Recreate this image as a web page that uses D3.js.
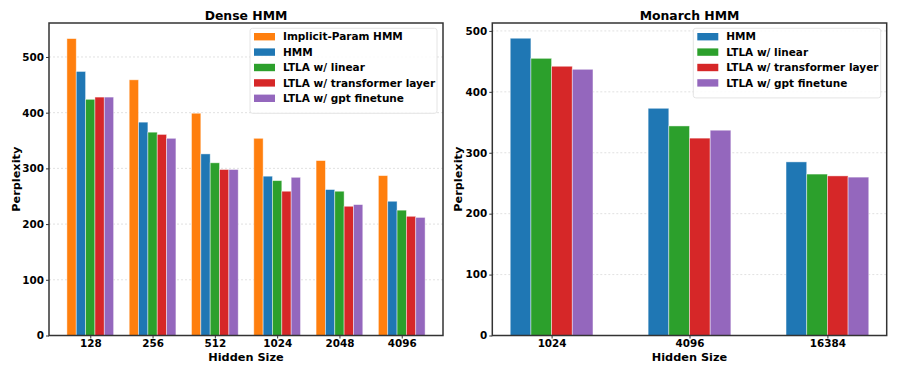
<!DOCTYPE html>
<html>
<head>
<meta charset="utf-8">
<script src="https://cdn.jsdelivr.net/npm/d3@7"></script>
<style>
  body { margin: 0; background: #fff; }
  svg { display: block; font-family: "DejaVu Sans", sans-serif; font-weight: bold; }
  .grid line { stroke: #d9d9d9; stroke-dasharray: 2,2; stroke-width: 0.8; }
  .axis text { font-family: "DejaVu Sans", sans-serif; font-size: 10.4px; font-weight: bold; fill: #000; }
  .axis line { stroke: #333; }
</style>
</head>
<body>
<div id="chart"></div>
<script>
// Dense HMM data
var denseSizes = ['128', '256', '512', '1024', '2048', '4096'];
var denseSeries = ['Implicit-Param HMM', 'HMM', 'LTLA w/ linear', 'LTLA w/ transformer layer', 'LTLA w/ gpt finetune'];
var denseImplicit = [533, 459, 399, 354, 314, 287];
var denseHmm = [474, 383, 326, 286, 262, 241];
var denseLinear = [424, 365, 310, 278, 259, 225];
var denseTransformer = [428, 361, 298, 259, 232, 214];
var denseGpt = [428, 354, 298, 284, 235, 212];
var denseTicks = [0, 100, 200, 300, 400, 500];

// Monarch HMM data
var monarchSizes = ['1024', '4096', '16384'];
var monarchSeries = ['HMM', 'LTLA w/ linear', 'LTLA w/ transformer layer', 'LTLA w/ gpt finetune'];
var monarchHmm = [488, 373, 285];
var monarchLinear = [455, 344, 265];
var monarchTransformer = [442, 324, 262];
var monarchGpt = [437, 337, 260];
var monarchTicks = [0, 100, 200, 300, 400, 500];

var colors = {
  'Implicit-Param HMM': '#ff7f0e',
  'HMM': '#1f77b4',
  'LTLA w/ linear': '#2ca02c',
  'LTLA w/ transformer layer': '#d62728',
  'LTLA w/ gpt finetune': '#9467bd'
};

var width = 897, height = 374;
var svg = d3.select('#chart').append('svg')
  .attr('width', width)
  .attr('height', height);

function drawPanel(opt) {
  var g = svg.append('g');
  var left = opt.left, right = opt.right, top = 23, bottom = 335.5;
  var n = opt.sizes.length, k = opt.series.length, bw = 0.15;
  var pad = ((n - 1) + k * bw) * 0.05 + k * bw / 2;

  var x = d3.scaleLinear().domain([-pad, n - 1 + pad]).range([left, right]);
  var y = d3.scaleLinear().domain([0, opt.ymax]).range([bottom, top]);

  // grid
  g.append('g').attr('class', 'grid')
    .selectAll('line').data(opt.ticks).enter().append('line')
    .attr('x1', left).attr('x2', right)
    .attr('y1', d => y(d)).attr('y2', d => y(d));

  // bars
  opt.series.forEach(function (name, j) {
    var vals = opt.values[j];
    g.append('g').selectAll('rect').data(vals).enter().append('rect')
      .attr('x', (d, i) => x(i + (j - (k - 1) / 2) * bw - bw / 2))
      .attr('width', x(bw) - x(0))
      .attr('y', d => y(d))
      .attr('height', d => y(0) - y(d))
      .attr('fill', colors[name])
      .attr('stroke', '#fff')
      .attr('stroke-opacity', 0.55)
      .attr('stroke-width', 0.8);
  });

  // axes
  var yAxis = d3.axisLeft(y).tickValues(opt.ticks).tickSize(3).tickPadding(2).tickFormat(d3.format('d'));
  g.append('g').attr('class', 'axis')
    .attr('transform', `translate(${left},0)`)
    .call(yAxis)
    .call(a => a.select('.domain').remove());

  var xAxis = d3.axisBottom(x).tickValues(d3.range(n)).tickSize(3).tickPadding(1.5)
    .tickFormat(i => opt.sizes[i]);
  g.append('g').attr('class', 'axis')
    .attr('transform', `translate(0,${bottom})`)
    .call(xAxis)
    .call(a => a.select('.domain').remove());

  // frame
  g.append('rect')
    .attr('x', left).attr('y', top)
    .attr('width', right - left).attr('height', bottom - top)
    .attr('fill', 'none').attr('stroke', '#333').attr('stroke-width', 1.5);

  // title & labels
  g.append('text')
    .attr('x', (left + right) / 2).attr('y', 20)
    .attr('text-anchor', 'middle')
    .style('font-size', '12.4px')
    .text(opt.title);

  g.append('text')
    .attr('x', (left + right) / 2).attr('y', 361)
    .attr('text-anchor', 'middle')
    .style('font-size', '11.3px')
    .text('Hidden Size');

  g.append('text')
    .attr('transform', `translate(${opt.ylabelX},${(top + bottom) / 2}) rotate(-90)`)
    .attr('text-anchor', 'middle')
    .style('font-size', '11.3px')
    .text('Perplexity');

  // legend
  var lg = g.append('g').attr('transform', `translate(${opt.legend.x},${opt.legend.y})`);
  lg.append('rect')
    .attr('width', opt.legend.w).attr('height', 8 + k * 15.4)
    .attr('rx', 2.5)
    .attr('fill', '#fff').attr('fill-opacity', 0.85)
    .attr('stroke', '#ddd').attr('stroke-width', 0.8);
  opt.series.forEach(function (name, j) {
    var cy = 8.4 + j * 15.4;
    lg.append('rect')
      .attr('x', 4).attr('y', cy - 3.7)
      .attr('width', 21).attr('height', 7.4)
      .attr('fill', colors[name]);
    lg.append('text')
      .attr('x', 33).attr('y', cy + 3.8)
      .style('font-size', '10.5px')
      .text(name);
  });
}

drawPanel({
  title: 'Dense HMM',
  left: 49, right: 443, ymax: 561,
  sizes: denseSizes, series: denseSeries,
  values: [denseImplicit, denseHmm, denseLinear, denseTransformer, denseGpt],
  ticks: denseTicks, ylabelX: 20,
  legend: { x: 250, y: 28.3, w: 187 }
});

drawPanel({
  title: 'Monarch HMM',
  left: 492.3, right: 886.7, ymax: 513,
  sizes: monarchSizes, series: monarchSeries,
  values: [monarchHmm, monarchLinear, monarchTransformer, monarchGpt],
  ticks: monarchTicks, ylabelX: 462,
  legend: { x: 693.3, y: 28.3, w: 187.4 }
});
</script>
</body>
</html>
